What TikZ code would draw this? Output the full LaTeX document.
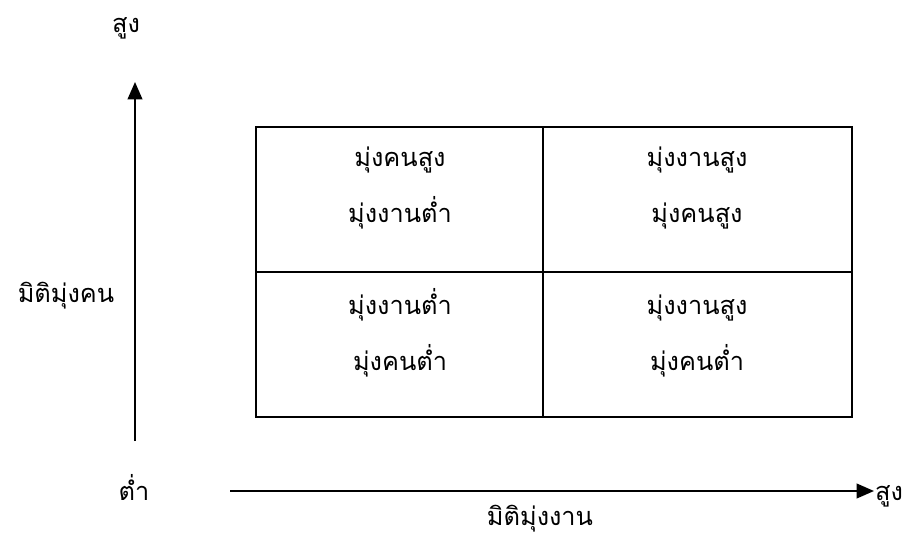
\documentclass[tikz,border=0pt]{standalone}
\usepackage{fontspec}
\newfontfamily\thaifont[Script=Thai]{Loma}
\usetikzlibrary{arrows.meta}

\tikzset{
  thai/.style={font=\thaifont\fontsize{19}{23}\selectfont, anchor=base, inner sep=0pt},
  grid line/.style={line width=1.5pt},
  axis/.style={->, >={Triangle[length=13pt, width=11pt]}, line width=1.4pt},
}

\begin{document}
\begin{tikzpicture}[x=0.75pt, y=-0.75pt]
  \useasboundingbox (0, 0) rectangle (902, 538);

  % the four cells
  \draw[grid line] (256, 127) rectangle (852, 417);
  \draw[grid line] (543, 127) -- (543, 417);
  \draw[grid line] (256, 272) -- (852, 272);

  \node[thai] (tl1) at (400, 167) {มุ่งคนสูง};
  \node[thai] (tl2) at (400, 223) {มุ่งงานต่ำ};
  \node[thai] (tr1) at (697, 167) {มุ่งงานสูง};
  \node[thai] (tr2) at (697, 223) {มุ่งคนสูง};
  \node[thai] (bl1) at (400, 314) {มุ่งงานต่ำ};
  \node[thai] (bl2) at (400, 370) {มุ่งคนต่ำ};
  \node[thai] (br1) at (697, 314) {มุ่งงานสูง};
  \node[thai] (br2) at (697, 370) {มุ่งคนต่ำ};

  % axes
  \coordinate (ylow) at (135, 441);
  \coordinate (yhigh) at (135, 82);
  \coordinate (xlow) at (230, 491);
  \coordinate (xhigh) at (874, 491);
  \draw[axis] (ylow) -- (yhigh);
  \draw[axis] (xlow) -- (xhigh);

  \node[thai] (ytop) at (126, 33) {สูง};
  \node[thai] (ylabel) at (66, 302) {มิติมุ่งคน};
  \node[thai] (origin) at (134, 500) {ต่ำ};
  \node[thai] (xright) at (889, 500) {สูง};
  \node[thai] (xlabel) at (540, 525) {มิติมุ่งงาน};

\end{tikzpicture}
\end{document}
